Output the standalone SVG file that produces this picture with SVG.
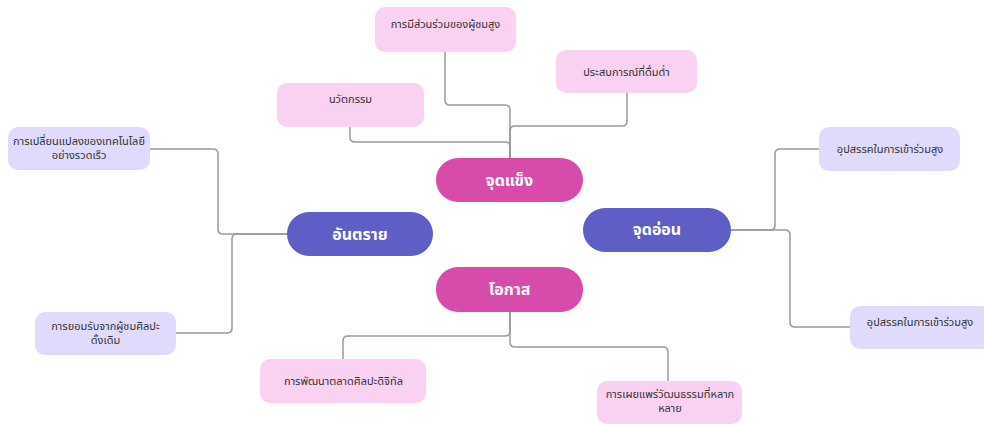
<svg xmlns="http://www.w3.org/2000/svg" width="984" height="424" viewBox="0 0 984 424">
<style>
.bg{fill:#ffffff}
.pink{fill:#F9D2F2}
.lav{fill:#E0DBFD}
.mag{fill:#D74BAA}
.pur{fill:#5F5DC6}
.leaf{font-family:"Noto Sans","Noto Sans Thai","DejaVu Sans",sans-serif;font-size:11px;fill:#333333;text-anchor:middle}
.main{font-family:"Noto Sans","Noto Sans Thai","DejaVu Sans",sans-serif;font-size:16px;font-weight:bold;fill:#ffffff;text-anchor:middle}
.conn path{fill:none;stroke:#9a9a9a;stroke-width:1.5}
</style>
<rect class="bg" x="0" y="0" width="984" height="424"/>
<g class="conn" id="connectors">
<path d="M445,52 V100 Q445,105 450,105 H505 Q510,105 510,110 V158"/>
<path d="M627,93 V121 Q627,126 622,126 H515 Q510,126 510,131 V158"/>
<path d="M350,127 V137 Q350,142 355,142 H505 Q510,142 510,147 V158"/>
<path d="M150,149 H213 Q218,149 218,154 V229 Q218,234 223,234 H287"/>
<path d="M176,333 H227 Q232,333 232,328 V239 Q232,234 237,234 H287"/>
<path d="M731,230 H770 Q775,230 775,225 V154 Q775,149 780,149 H819"/>
<path d="M731,230 H785 Q790,230 790,235 V322 Q790,327 795,327 H850"/>
<path d="M510,312 V331 Q510,336 505,336 H348 Q343,336 343,341 V359"/>
<path d="M510,312 V342 Q510,347 515,347 H663 Q668,347 668,352 V381"/>
</g>
<g id="strength">
<rect class="mag" x="436" y="158" width="147" height="44" rx="22"/>
<text class="main" x="509.5" y="186">จุดแข็ง</text>
</g>
<g id="threat">
<rect class="pur" x="287" y="212" width="146" height="44" rx="22"/>
<text class="main" x="360" y="239.5">อันตราย</text>
</g>
<g id="weakness">
<rect class="pur" x="583" y="208" width="148" height="44" rx="22"/>
<text class="main" x="657" y="235">จุดอ่อน</text>
</g>
<g id="opportunity">
<rect class="mag" x="436" y="267" width="147" height="45" rx="22"/>
<text class="main" x="509.5" y="295">โอกาส</text>
</g>
<g id="engagement">
<rect class="pink" x="375" y="7" width="141" height="45" rx="10"/>
<text class="leaf" x="445.5" y="27.5">การมีส่วนร่วมของผู้ชมสูง</text>
</g>
<g id="immersive">
<rect class="pink" x="556" y="50" width="141" height="43" rx="10"/>
<text class="leaf" x="626.5" y="76">ประสบการณ์ที่ดื่มด่ำ</text>
</g>
<g id="innovation">
<rect class="pink" x="277" y="83" width="147" height="44" rx="10"/>
<text class="leaf" x="350.5" y="103">นวัตกรรม</text>
</g>
<g id="tech-change">
<rect class="lav" x="8" y="127" width="142" height="43" rx="10"/>
<text class="leaf" x="79" y="145"><tspan x="79">การเปลี่ยนแปลงของเทคโนโลยี</tspan><tspan x="79" dy="14">อย่างรวดเร็ว</tspan></text>
</g>
<g id="acceptance">
<rect class="lav" x="35" y="312" width="141" height="43" rx="10"/>
<text class="leaf" x="105.5" y="330"><tspan x="105.5">การยอมรับจากผู้ชมศิลปะ</tspan><tspan x="105.5" dy="14">ดั้งเดิม</tspan></text>
</g>
<g id="barrier-1">
<rect class="lav" x="819" y="127" width="141" height="44" rx="10"/>
<text class="leaf" x="890" y="153">อุปสรรคในการเข้าร่วมสูง</text>
</g>
<g id="barrier-2">
<rect class="lav" x="850" y="306" width="141" height="43" rx="10"/>
<text class="leaf" x="920" y="326">อุปสรรคในการเข้าร่วมสูง</text>
</g>
<g id="digital-market">
<rect class="pink" x="260" y="359" width="166" height="44" rx="10"/>
<text class="leaf" x="343.5" y="385">การพัฒนาตลาดศิลปะดิจิทัล</text>
</g>
<g id="culture">
<rect class="pink" x="597" y="381" width="145" height="43" rx="10"/>
<text class="leaf" x="670" y="398"><tspan x="670">การเผยแพร่วัฒนธรรมที่หลาก</tspan><tspan x="670" dy="14">หลาย</tspan></text>
</g>
</svg>
